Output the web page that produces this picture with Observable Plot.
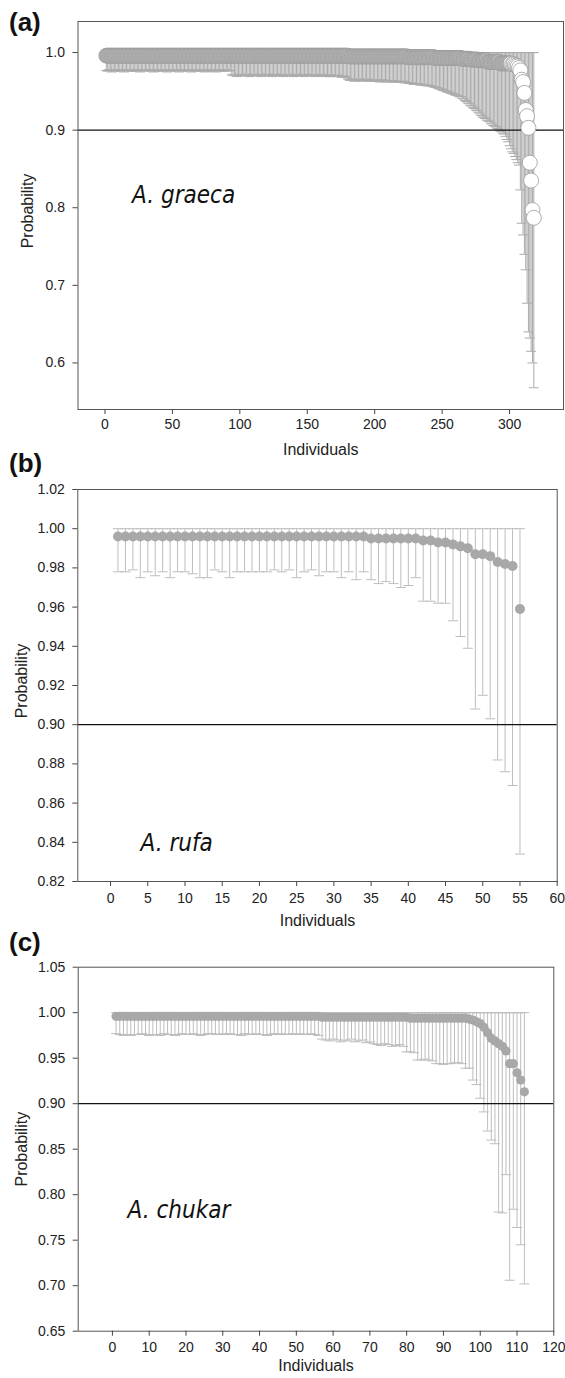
<!DOCTYPE html>
<html><head><meta charset="utf-8">
<script src="https://cdn.jsdelivr.net/npm/d3@7"></script>
<script src="https://cdn.jsdelivr.net/npm/@observablehq/plot@0.6"></script>
<style>
body{margin:0;background:#fff;}
#page{position:relative;width:565px;height:1378px;overflow:hidden;background:#fff;font-family:"Liberation Sans",Arial,sans-serif;}
.panel{position:absolute;left:0;}
.panel svg{display:block;overflow:visible;}
.tag{position:absolute;left:9px;font-weight:bold;font-size:26px;line-height:26px;color:#111;font-family:"Liberation Sans",Arial,sans-serif;}
</style></head><body><div id="page"></div>
<script>
// ---------- Panel (a) A. graeca : 318 individuals ----------
const probA = [
0.996,0.996,0.996,0.996,0.996,0.996,0.996,0.996,0.996,0.996,0.996,0.996,0.996,0.996,0.996,0.996,0.996,0.996,0.996,0.996,
0.996,0.996,0.996,0.996,0.996,0.996,0.996,0.996,0.996,0.996,0.996,0.996,0.996,0.996,0.996,0.996,0.996,0.996,0.996,0.996,
0.996,0.996,0.996,0.996,0.996,0.996,0.996,0.996,0.996,0.996,0.996,0.996,0.996,0.996,0.996,0.996,0.996,0.996,0.996,0.996,
0.996,0.996,0.996,0.996,0.996,0.996,0.996,0.996,0.996,0.996,0.996,0.996,0.996,0.996,0.996,0.996,0.996,0.996,0.996,0.996,
0.996,0.996,0.996,0.996,0.996,0.996,0.996,0.996,0.996,0.996,0.996,0.996,0.996,0.996,0.996,0.996,0.996,0.996,0.996,0.996,
0.996,0.996,0.996,0.996,0.996,0.996,0.996,0.996,0.996,0.996,0.996,0.996,0.996,0.996,0.996,0.996,0.996,0.996,0.996,0.996,
0.996,0.996,0.996,0.996,0.996,0.996,0.996,0.996,0.996,0.996,0.996,0.996,0.996,0.996,0.996,0.996,0.996,0.996,0.996,0.996,
0.996,0.996,0.996,0.996,0.996,0.996,0.996,0.996,0.996,0.996,0.996,0.996,0.996,0.996,0.996,0.996,0.996,0.996,0.996,0.996,
0.996,0.996,0.996,0.996,0.996,0.996,0.996,0.996,0.996,0.996,0.996,0.996,0.996,0.996,0.996,0.996,0.996,0.996,0.996,0.996,
0.995,0.995,0.995,0.995,0.995,0.995,0.995,0.995,0.995,0.995,0.995,0.995,0.995,0.995,0.995,0.995,0.995,0.995,0.995,0.995,
0.995,0.995,0.995,0.995,0.995,0.995,0.995,0.995,0.995,0.995,0.995,0.995,0.995,0.995,0.995,0.995,0.995,0.995,0.995,0.995,
0.995,0.995,0.995,0.995,
0.994,0.994,0.994,0.994,0.994,0.994,0.994,0.994,0.994,0.994,0.994,0.994,0.994,0.994,0.994,0.994,0.994,0.994,0.994,0.994,
0.993,0.993,0.993,0.993,0.993,0.993,0.993,0.993,0.993,0.993,0.993,0.993,0.993,0.993,0.993,0.993,0.993,0.993,0.993,0.993,
0.992,0.992,0.992,0.992,0.992,0.992,0.991,0.991,0.991,0.991,0.991,0.991,0.990,0.990,0.990,0.990,0.990,0.990,0.990,
0.988,0.988,0.988,0.988,0.988,0.988,0.988,0.988,0.988,
0.986,0.986,0.986,0.986,0.986,0.986,0.986,0.986,
0.986,0.985,0.985,0.984,0.983,0.982,
0.980,0.977,0.965,0.962,0.948,0.926,0.918,0.903,0.858,0.835,0.797,0.787
];
const lowA = [
0.977,0.976,0.978,0.977,0.975,0.977,0.978,0.976,0.977,0.977,
0.976,0.978,0.977,0.975,0.977,0.977,0.978,0.976,0.977,0.976,
0.977,0.978,0.976,0.977,0.977,0.975,0.977,0.978,0.977,0.976,
0.977,0.977,0.978,0.976,0.977,0.975,0.977,0.977,0.978,0.976,
0.977,0.976,0.977,0.978,0.977,0.975,0.977,0.976,0.977,0.978,
0.977,0.976,0.977,0.977,0.975,0.978,0.977,0.976,0.977,0.977,
0.978,0.976,0.977,0.975,0.977,0.977,0.978,0.976,0.977,0.976,
0.977,0.978,0.977,0.975,0.977,0.976,0.977,0.978,0.976,0.977,
0.977,0.975,0.977,0.978,0.976,0.977,0.977,0.976,0.978,0.977,
0.976,0.977,0.977,
0.971,0.972,0.970,0.971,0.969,0.971,0.972,0.970,0.971,0.971,
0.970,0.972,0.971,0.969,0.971,0.971,0.972,0.970,0.971,0.970,
0.971,0.972,0.969,0.971,0.970,0.971,0.972,0.971,0.970,0.971,
0.969,0.971,0.972,0.970,0.971,0.971,0.970,0.972,0.969,0.971,
0.971,0.970,0.972,0.971,0.970,0.971,0.969,0.971,0.972,0.970,
0.971,0.970,0.971,0.972,0.969,0.971,0.970,0.971,0.971,0.970,
0.972,0.971,0.969,0.970,0.971,0.971,0.970,0.972,0.971,0.969,
0.970,0.971,0.970,0.969,0.971,0.970,0.969,0.970,0.971,0.969,
0.970,0.969,0.968,0.970,0.969,0.968,
0.966,0.965,0.964,0.966,0.965,0.963,0.965,0.964,0.966,0.964,
0.965,0.963,0.964,0.965,0.966,0.964,0.963,0.965,0.964,0.963,
0.964,0.965,0.963,0.964,0.962,0.964,0.965,0.963,0.964,0.962,
0.963,0.964,0.962,0.963,0.964,0.962,0.963,0.962,0.963,0.962,
0.962,0.963,0.961,0.962,0.961,
0.961,0.960,0.961,0.960,0.959,0.960,0.959,0.960,0.959,0.958,0.959,0.958,0.959,0.958,0.957,0.958,0.957,0.957,0.956,
0.956,0.955,0.955,0.954,0.953,0.953,0.952,0.951,0.951,0.950,0.949,0.949,0.948,0.947,0.947,0.946,0.945,0.945,0.944,0.943,0.943,
0.941,0.940,0.938,0.937,0.935,0.934,0.932,0.931,0.929,0.928,0.926,0.925,0.923,0.921,0.919,0.917,
0.916,0.915,0.913,0.912,0.911,0.909,0.908,0.906,0.905,0.904,0.902,0.901,0.899,0.898,0.896,0.895,
0.892,0.888,0.885,0.880,0.876,0.872,0.870,0.866,0.862,0.858,
0.855,0.823,0.780,0.765,0.740,0.720,0.677,0.640,0.632,0.615,0.600,0.568
];
const highA = [
1,1,1,1,1,1,1,1,1,1,1,1,1,1,1,1,1,1,1,1,1,1,1,1,1,1,1,1,1,1,1,1,1,1,1,1,1,1,1,1,
1,1,1,1,1,1,1,1,1,1,1,1,1,1,1,1,1,1,1,1,1,1,1,1,1,1,1,1,1,1,1,1,1,1,1,1,1,1,1,1,
1,1,1,1,1,1,1,1,1,1,1,1,1,1,1,1,1,1,1,1,1,1,1,1,1,1,1,1,1,1,1,1,1,1,1,1,1,1,1,1,
1,1,1,1,1,1,1,1,1,1,1,1,1,1,1,1,1,1,1,1,1,1,1,1,1,1,1,1,1,1,1,1,1,1,1,1,1,1,1,1,
1,1,1,1,1,1,1,1,1,1,1,1,1,1,1,1,1,1,1,1,1,1,1,1,1,1,1,1,1,1,1,1,1,1,1,1,1,1,1,1,
1,1,1,1,1,1,1,1,1,1,1,1,1,1,1,1,1,1,1,1,1,1,1,1,1,1,1,1,1,1,1,1,1,1,1,1,1,1,1,1,
1,1,1,1,1,1,1,1,1,1,1,1,1,1,1,1,1,1,1,1,1,1,1,1,1,1,1,1,1,1,1,1,1,1,1,1,1,1,1,1,
1,1,1,1,1,1,1,1,1,1,1,1,1,1,1,1,1,1,1,1,1,1,1,1,1,1,1,1,1,1,1,1,1,1,1,1,1,1
];
const hollowA = [301,302,303,304,305,306,307,308,309,310,311,312,313,314,315,316,317,318];
const xTicksA = [0,50,100,150,200,250,300];
const yTicksA = [0.6,0.7,0.8,0.9,1.0];

// ---------- Panel (b) A. rufa : 55 individuals ----------
const probB = [
0.996,0.996,0.996,0.996,0.996,0.996,0.996,0.996,0.996,0.996,
0.996,0.996,0.996,0.996,0.996,0.996,0.996,0.996,0.996,0.996,
0.996,0.996,0.996,0.996,0.996,0.996,0.996,0.996,0.996,0.996,
0.996,0.996,0.996,0.996,0.995,0.995,0.995,0.995,0.995,0.995,
0.995,0.994,0.994,0.993,0.993,0.992,0.991,0.990,0.987,0.987,
0.986,0.983,0.982,0.981,0.959
];
const lowB = [
0.978,0.978,0.979,0.975,0.978,0.976,0.978,0.975,0.978,0.978,
0.977,0.975,0.975,0.979,0.978,0.975,0.978,0.978,0.978,0.978,
0.978,0.979,0.978,0.979,0.975,0.978,0.979,0.976,0.978,0.978,
0.975,0.978,0.974,0.978,0.974,0.972,0.973,0.972,0.970,0.971,
0.975,0.963,0.963,0.962,0.962,0.953,0.945,0.939,0.908,0.915,
0.903,0.882,0.876,0.869,0.834
];
const highB = [
1,1,1,1,1,1,1,1,1,1,1,1,1,1,1,1,1,1,1,1,1,1,1,1,1,1,1,1,
1,1,1,1,1,1,1,1,1,1,1,1,1,1,1,1,1,1,1,1,1,1,1,1,1,1,1
];
const hollowB = [];
const xTicksB = [0,5,10,15,20,25,30,35,40,45,50,55,60];
const yTicksB = [0.82,0.84,0.86,0.88,0.90,0.92,0.94,0.96,0.98,1.00,1.02];

// ---------- Panel (c) A. chukar : 112 individuals ----------
const probC = [
0.996,0.996,0.996,0.996,0.996,0.996,0.996,0.996,0.996,0.996,
0.996,0.996,0.996,0.996,0.996,0.996,0.996,0.996,0.996,0.996,
0.996,0.996,0.996,0.996,0.996,0.996,0.996,0.996,0.996,0.996,
0.996,0.996,0.996,0.996,0.996,0.996,0.996,0.996,0.996,0.996,
0.996,0.996,0.996,0.996,0.996,0.996,0.996,0.996,0.996,0.996,
0.996,0.996,0.996,0.996,0.996,0.996,
0.995,0.995,0.995,0.995,0.995,0.995,0.995,0.995,0.995,0.995,0.995,0.995,
0.995,0.995,0.995,0.995,0.995,0.995,0.995,0.995,0.995,0.995,0.995,0.995,
0.994,0.994,0.994,0.994,0.994,0.994,0.994,0.994,0.994,0.994,0.994,0.994,0.994,0.994,0.994,0.994,
0.993,0.992,0.990,0.988,0.984,0.978,0.972,0.969,0.966,0.963,0.958,0.944,0.944,0.934,0.926,0.913
];
const lowC = [
0.977,0.976,0.975,0.976,0.975,0.976,0.976,0.977,0.976,0.975,
0.976,0.976,0.975,0.977,0.976,0.976,0.975,0.976,0.977,0.976,
0.976,0.977,0.976,0.975,0.976,0.977,0.977,0.976,0.976,0.977,
0.976,0.977,0.976,0.976,0.975,0.977,0.976,0.976,0.977,0.976,
0.976,0.975,0.976,0.977,0.976,0.977,0.976,0.976,0.977,0.976,
0.977,0.976,0.976,0.977,0.976,0.975,
0.971,0.970,0.969,0.971,0.970,0.968,0.970,0.969,0.971,0.968,0.969,0.970,0.967,0.968,
0.966,0.965,0.964,0.966,0.965,0.963,0.964,0.965,0.963,
0.957,0.957,0.956,
0.948,0.948,0.949,0.948,0.947,
0.944,0.944,0.943,0.944,0.944,
0.945,0.945,0.944,
0.939,0.939,
0.926,0.921,0.906,0.891,0.870,0.860,0.856,0.781,0.780,0.822,0.706,0.784,0.764,0.745,0.702
];
const highC = [
1,1,1,1,1,1,1,1,1,1,1,1,1,1,1,1,1,1,1,1,1,1,1,1,1,1,1,1,
1,1,1,1,1,1,1,1,1,1,1,1,1,1,1,1,1,1,1,1,1,1,1,1,1,1,1,1,
1,1,1,1,1,1,1,1,1,1,1,1,1,1,1,1,1,1,1,1,1,1,1,1,1,1,1,1,
1,1,1,1,1,1,1,1,1,1,1,1,1,1,1,1,1,1,1,1,1,1,1,1,1,1,1,1
];
const hollowC = [];
const xTicksC = [0,10,20,30,40,50,60,70,80,90,100,110,120];
const yTicksC = [0.65,0.70,0.75,0.80,0.85,0.90,0.95,1.00,1.05];

const threshold = [0.9];

// ---------- drawing ----------
const capSymbol = {
  draw(context, size) {
    const w = Math.sqrt(size / Math.PI);
    context.moveTo(-w, 0);
    context.lineTo(w, 0);
  }
};

function makePanel(cfg) {
  const ids = d3.range(1, cfg.prob.length + 1);
  const data = ids.map((id, k) => ({
    id, p: cfg.prob[k], lo: cfg.low[k], hi: cfg.high[k],
    fill: cfg.hollow.includes(id) ? "#ffffff" : cfg.dotFill
  }));
  return Plot.plot({
    width: 565,
    height: cfg.height,
    marginLeft: cfg.m[3], marginRight: cfg.m[1], marginTop: cfg.m[0], marginBottom: cfg.m[2],
    x: {domain: cfg.xDomain},
    y: {domain: cfg.yDomain},
    color: {type: "identity"},
    style: {fontFamily: '"Liberation Sans", Arial, sans-serif', fontSize: "14px", color: "#222", background: "transparent"},
    marks: [
      Plot.ruleX(data, {x: "id", y1: "lo", y2: "hi", stroke: cfg.barColor, strokeWidth: 1}),
      Plot.dot(data, {x: "id", y: "lo", symbol: capSymbol, r: 5, fill: "none", stroke: cfg.barColor, strokeWidth: 1}),
      Plot.dot(data, {x: "id", y: "hi", symbol: capSymbol, r: 5, fill: "none", stroke: cfg.barColor, strokeWidth: 1}),
      Plot.ruleY(threshold, {stroke: "#111", strokeWidth: 1.3}),
      Plot.dot(data, {x: "id", y: "p", r: cfg.r, fill: "fill", stroke: cfg.dotStroke, strokeWidth: cfg.dotStrokeWidth}),
      Plot.frame({stroke: "#555", strokeWidth: 1}),
      Plot.axisY({ticks: cfg.yTicks, tickFormat: d3.format(cfg.yFmt), tickSize: 5, tickPadding: 8, label: null, fontSize: 14, stroke: "#444"}),
      Plot.axisX({ticks: cfg.xTicks, tickFormat: d => String(d), tickSize: 5, tickPadding: cfg.xPad, label: null, fontSize: 14, stroke: "#444"}),
      Plot.text([cfg.species], {text: d => d, frameAnchor: "top-left", dx: cfg.sp[0], dy: cfg.sp[1], textAnchor: "start", lineAnchor: "bottom",
        fontFamily: '"DejaVu Sans Condensed", "DejaVu Sans", sans-serif', fontStyle: "italic", fontSize: 24, fill: "#111"}),
      Plot.text(["Probability"], {text: d => d, frameAnchor: "left", rotate: -90, dx: cfg.yl[0], dy: cfg.yl[1], lineAnchor: "middle", textAnchor: "middle", fontSize: 16, fill: "#222"}),
      Plot.text(["Individuals"], {text: d => d, frameAnchor: "bottom", dy: cfg.xl, lineAnchor: "bottom", textAnchor: "middle", fontSize: 16, fill: "#222"})
    ]
  });
}

const page = document.getElementById("page");
function place(node, top) {
  const div = document.createElement("div");
  div.className = "panel";
  div.style.top = top + "px";
  div.appendChild(node);
  page.appendChild(div);
}
function tag(text, top) {
  const d = document.createElement("div");
  d.className = "tag";
  d.style.top = top + "px";
  d.textContent = text;
  page.appendChild(d);
}

place(makePanel({
  prob: probA, low: lowA, high: highA, hollow: hollowA,
  height: 465, m: [21, 2, 56, 77.5],
  xDomain: [-20, 340], yDomain: [0.54, 1.04],
  xTicks: xTicksA, yTicks: yTicksA, yFmt: ".1f", xPad: 5,
  r: 7.5, dotFill: "#bdbdbd", dotStroke: "#9a9a9a", dotStrokeWidth: 0.8, barColor: "#ababab",
  species: "A. graeca", sp: [54, 181], yl: [-50, -4.5], xl: 45
}), 0);

place(makePanel({
  prob: probB, low: lowB, high: highB, hollow: hollowB,
  height: 465, m: [19, 8.3, 54, 77.3],
  xDomain: [-4.4, 60], yDomain: [0.82, 1.02],
  xTicks: xTicksB, yTicks: yTicksB, yFmt: ".2f", xPad: 7,
  r: 5, dotFill: "#a8a8a8", dotStroke: "none", dotStrokeWidth: 0, barColor: "#bdbdbd",
  species: "A. rufa", sp: [62.7, 361], yl: [-56, -4.5], xl: 44
}), 470);

place(makePanel({
  prob: probC, low: lowC, high: highC, hollow: hollowC,
  height: 438, m: [26.7, 11.7, 47.3, 77.7],
  xDomain: [-9.3, 120], yDomain: [0.65, 1.05],
  xTicks: xTicksC, yTicks: yTicksC, yFmt: ".2f", xPad: 6,
  r: 4.6, dotFill: "#a8a8a8", dotStroke: "none", dotStrokeWidth: 0, barColor: "#bdbdbd",
  species: "A. chukar", sp: [49.3, 250.3], yl: [-56.7, 0], xl: 40
}), 940);

tag("(a)", 9);
tag("(b)", 450);
tag("(c)", 929);
</script></body></html>
